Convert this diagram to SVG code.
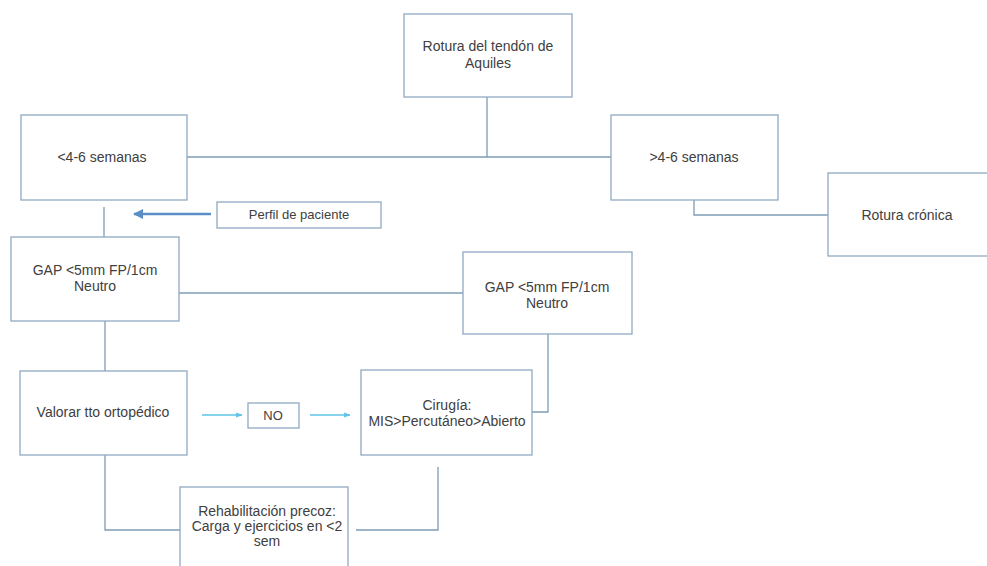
<svg xmlns="http://www.w3.org/2000/svg" width="987" height="566" viewBox="0 0 987 566">
<defs>
<style>
.box{fill:#fff;stroke:#8fa9c2;stroke-width:1.3}
.ln{fill:none;stroke:#7f9cb8;stroke-width:1.3}
.t{font-family:"Liberation Sans",Arial,sans-serif;font-size:14px;fill:#404040;text-anchor:middle}
.ts{font-family:"Liberation Sans",Arial,sans-serif;font-size:13px;fill:#404040;text-anchor:middle}
</style>
<marker id="ab" viewBox="0 0 10 10" refX="9" refY="5" markerWidth="4" markerHeight="4" orient="auto"><path d="M0,0 L10,5 L0,10 z" fill="#5b8ec4"/></marker>
<marker id="al" viewBox="0 0 10 10" refX="9" refY="5" markerWidth="5" markerHeight="5" orient="auto"><path d="M0,1 L10,5 L0,9 z" fill="#5cc3e6"/></marker>
</defs>
<rect width="987" height="566" fill="#fff"/>
<g id="connectors">
<path class="ln" d="M487,97 V157 M187,157 H611"/>
<path class="ln" d="M694,200 V215 H828"/>
<path class="ln" d="M104,207 V237"/>
<path d="M211,214 H134" stroke="#5b8ec4" stroke-width="2.5" fill="none" marker-end="url(#ab)"/>
<path class="ln" d="M179,293 H463"/>
<path class="ln" d="M105,321 V371"/>
<path class="ln" d="M548,334 V412 H532"/>
<path d="M202,415 H242" stroke="#5cc3e6" stroke-width="1.3" fill="none" marker-end="url(#al)"/>
<path d="M310,415 H350" stroke="#5cc3e6" stroke-width="1.3" fill="none" marker-end="url(#al)"/>
<path class="ln" d="M105,455 V530 H180"/>
<path class="ln" d="M356,530 H438 V467"/>
</g>
<g id="n1"><rect class="box" x="404" y="14" width="168" height="83"/><text class="t" x="488" y="51">Rotura del tendón de</text><text class="t" x="488" y="68">Aquiles</text></g>
<g id="n2"><rect class="box" x="21" y="115" width="166" height="85"/><text class="t" x="102" y="162">&lt;4-6 semanas</text></g>
<g id="n3"><rect class="box" x="611" y="115" width="167" height="85"/><text class="t" x="694" y="162">&gt;4-6 semanas</text></g>
<g id="n4"><rect class="box" x="828" y="173" width="165" height="83"/><text class="t" x="907" y="220">Rotura crónica</text></g>
<g id="n5"><rect class="box" x="217" y="202" width="164" height="26"/><text class="ts" x="299" y="219">Perfil de paciente</text></g>
<g id="n6"><rect class="box" x="11" y="237" width="168" height="84"/><text class="t" x="95" y="275">GAP &lt;5mm FP/1cm</text><text class="t" x="95" y="291">Neutro</text></g>
<g id="n7"><rect class="box" x="463" y="252" width="169" height="82"/><text class="t" x="547" y="292">GAP &lt;5mm FP/1cm</text><text class="t" x="547" y="308">Neutro</text></g>
<g id="n8"><rect class="box" x="20" y="371" width="167" height="84"/><text class="t" x="103" y="417">Valorar tto ortopédico</text></g>
<g id="n9"><rect class="box" x="248" y="403" width="51" height="25"/><text class="ts" x="273" y="420">NO</text></g>
<g id="n10"><rect class="box" x="361" y="370" width="171" height="85"/><text class="t" x="447" y="410">Cirugía:</text><text class="t" x="447" y="426">MIS&gt;Percutáneo&gt;Abierto</text></g>
<g id="n11"><rect class="box" x="180" y="487" width="168" height="85"/><text class="t" x="267" y="516">Rehabilitación precoz:</text><text class="t" x="267" y="531">Carga y ejercicios en &lt;2</text><text class="t" x="267" y="546">sem</text></g>
</svg>
